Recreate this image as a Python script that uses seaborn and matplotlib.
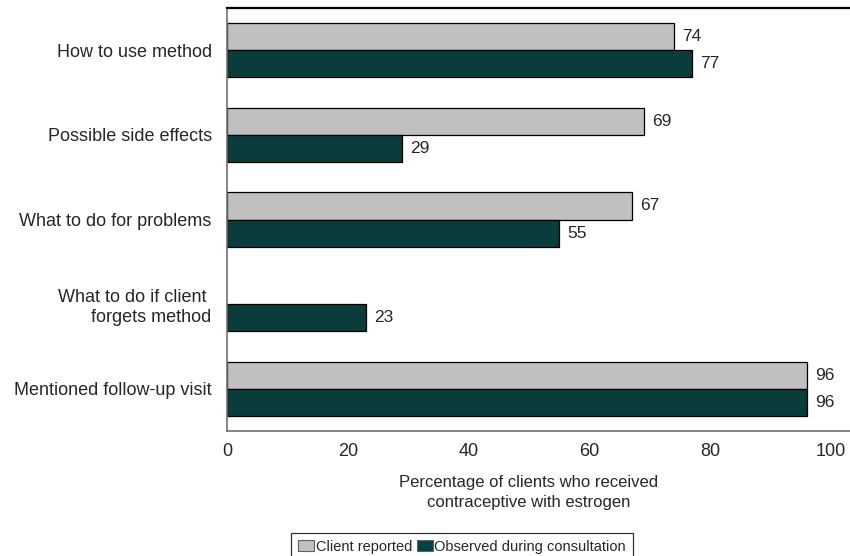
import numpy as np
import pandas as pd
import matplotlib
matplotlib.use("Agg")
import matplotlib.pyplot as plt
import seaborn as sns

# Counselling topics and the share of clients for each source
topics = [
    "How to use method",
    "Possible side effects",
    "What to do for problems",
    "What to do if client \nforgets method",
    "Mentioned follow-up visit",
]
client_reported = [74, 69, 67, np.nan, 96]
observed = [77, 29, 55, 23, 96]
series_names = ["Client reported", "Observed during consultation"]
x_ticks = [0, 20, 40, 60, 80, 100]

colors = {"Client reported": "#C0C0C0", "Observed during consultation": "#024444"}

df = pd.DataFrame({
    "topic": topics * 2,
    "pct": client_reported + observed,
    "source": [series_names[0]] * len(topics) + [series_names[1]] * len(topics),
}).dropna()

sns.set_style("white")
plt.rcParams["font.family"] = ["Liberation Sans", "DejaVu Sans"]

W, H = 850, 556
fig = plt.figure(figsize=(W / 100, H / 100), dpi=100)
left, right, top, bottom = 227, 850, 8, 431
ax = fig.add_axes([left / W, 1 - bottom / H, (right - left) / W, (bottom - top) / H])

sns.barplot(
    data=df, y="topic", x="pct", hue="source",
    order=topics, hue_order=series_names, palette=colors,
    orient="h", width=0.64, edgecolor="black", linewidth=0.9,
    ax=ax, legend=False,
)

for cont in ax.containers:
    ax.bar_label(cont, fmt="%.0f", padding=6, fontsize=12.5)

ax.set_xlim(0, (right - left) / 6.04)
ax.set_ylim(4.5, -0.5)
ax.set_xticks(x_ticks)
ax.set_xticklabels([str(t) for t in x_ticks])
ax.tick_params(axis="both", length=0, labelsize=13)
ax.tick_params(axis="x", pad=9)
ax.tick_params(axis="y", pad=11)
ax.set_ylabel("")
ax.set_xlabel("Percentage of clients who received\ncontraceptive with estrogen",
              fontsize=12, linespacing=1.45)
ax.xaxis.set_label_coords(50 / ax.get_xlim()[1], -0.103)
ax.xaxis.label.set_va("top")

for lbl in ax.get_yticklabels():
    lbl.set_horizontalalignment("right")
    lbl.set_multialignment("right")

ax.spines["right"].set_visible(False)
ax.spines["top"].set_color("black")
ax.spines["top"].set_linewidth(1.6)
for s in ("left", "bottom"):
    ax.spines[s].set_color("#707070")
    ax.spines[s].set_linewidth(1.2)

handles = [plt.Rectangle((0, 0), 1, 1, facecolor=colors[n], edgecolor="#606060", linewidth=0.8)
           for n in series_names]
leg = fig.legend(
    handles, series_names, loc="upper center",
    bbox_to_anchor=(462 / W, 1 - 533 / H), ncol=2, fontsize=10.5,
    frameon=True, fancybox=False, edgecolor="black",
    handlelength=1.1, handleheight=0.85, handletextpad=0.12,
    columnspacing=0.3, borderpad=0.45, borderaxespad=0,
)
leg.get_frame().set_linewidth(0.9)

fig.savefig("out.png", dpi=100)
